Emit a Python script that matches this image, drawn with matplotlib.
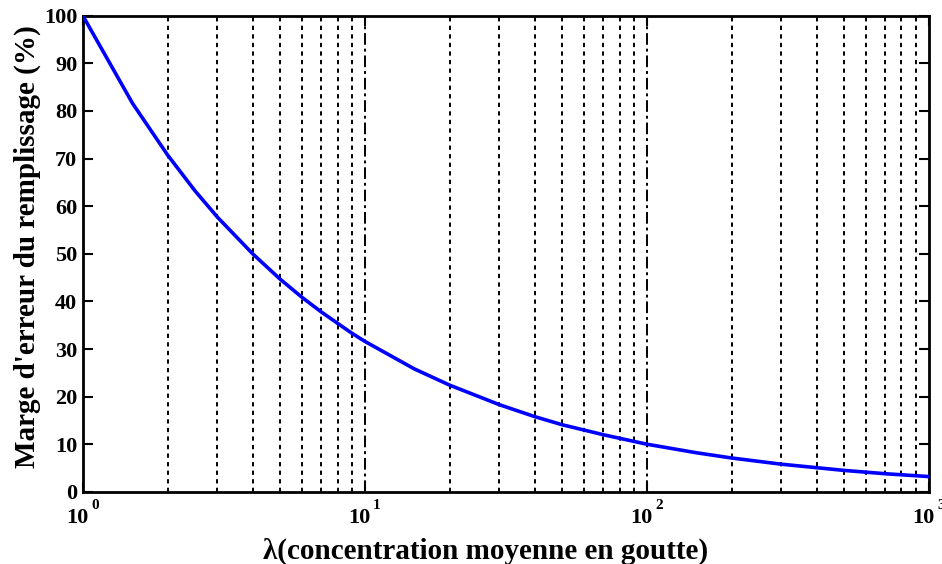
import numpy as np
import matplotlib
matplotlib.use("Agg")
import matplotlib.pyplot as plt
import matplotlib.transforms as mtransforms
from matplotlib.ticker import LogLocator, FixedLocator

# lambda values and the matching fill error margin (%)
lam = [1, 1.5, 2, 2.5, 3, 4, 5, 6, 7, 8, 9, 10, 15, 20, 30, 40, 50, 70,
       100, 150, 200, 300, 500, 700, 1000]
marge = [100, 81.6, 70.7, 63.2, 57.7, 50.0, 44.7, 40.8, 37.8, 35.4, 33.3, 31.6,
         25.8, 22.4, 18.3, 15.8, 14.1, 12.0, 10.0, 8.2, 7.1, 5.8, 4.5, 3.8, 3.2]

xticks = [1, 10, 100, 1000]
yticks = list(range(0, 101, 10))

plt.rcParams['font.family'] = ['Liberation Serif', 'DejaVu Serif']
plt.rcParams['font.weight'] = 'bold'

fig = plt.figure(figsize=(9.42, 5.64), dpi=100)
ax = fig.add_axes([0.088, 0.128, 0.898, 0.844])

# vertical grid lines: decades dash-dot, minor ticks dotted
for d in [1, 10, 100]:
    for k in range(2, 10):
        ax.axvline(d * k, color='black', lw=1.4, ls=(0, (2.2, 2.2)), zorder=1)
for d in [10, 100]:
    ax.axvline(d, color='black', lw=1.4, ls=(0, (6, 2, 1.5, 2)), zorder=1)

ax.plot(lam, marge, color='#0000ff', lw=2.6, zorder=3)

ax.set_xscale('log')
ax.set_xlim(1, 1000)
ax.set_ylim(0, 100)
ax.xaxis.set_major_locator(FixedLocator(xticks))
ax.xaxis.set_minor_locator(LogLocator(subs=range(2, 10)))
ax.set_yticks(yticks)
ax.set_xticklabels([])

# decade labels: "10" with the exponent raised above its right side
trans = mtransforms.blended_transform_factory(ax.transData, ax.transAxes)
for t in xticks:
    base = mtransforms.offset_copy(trans, fig=fig, x=-4, y=-12, units='points')
    ax.text(t, 0, '10', transform=base, ha='center', va='top', fontsize=16)
    sup = mtransforms.offset_copy(trans, fig=fig, x=6, y=-5.5, units='points')
    ax.text(t, 0, '%d' % int(np.log10(t)), transform=sup, ha='left', va='top',
            fontsize=11)

ax.tick_params(direction='in', top=True, right=True, labelsize=16, width=1.5,
               length=7)
ax.tick_params(axis='y', pad=4)
ax.tick_params(which='minor', direction='in', top=True, length=0)
for s in ax.spines.values():
    s.set_linewidth(2)

ax.set_xlabel('λ(concentration moyenne en goutte)', fontsize=21,
              fontweight='bold')
ax.xaxis.set_label_coords(0.476, -0.096)
ax.set_ylabel("Marge d'erreur du remplissage (%)", fontsize=21,
              fontweight='bold')
ax.yaxis.set_label_coords(-0.05, 0.516)

fig.savefig('out.png', dpi=100)
